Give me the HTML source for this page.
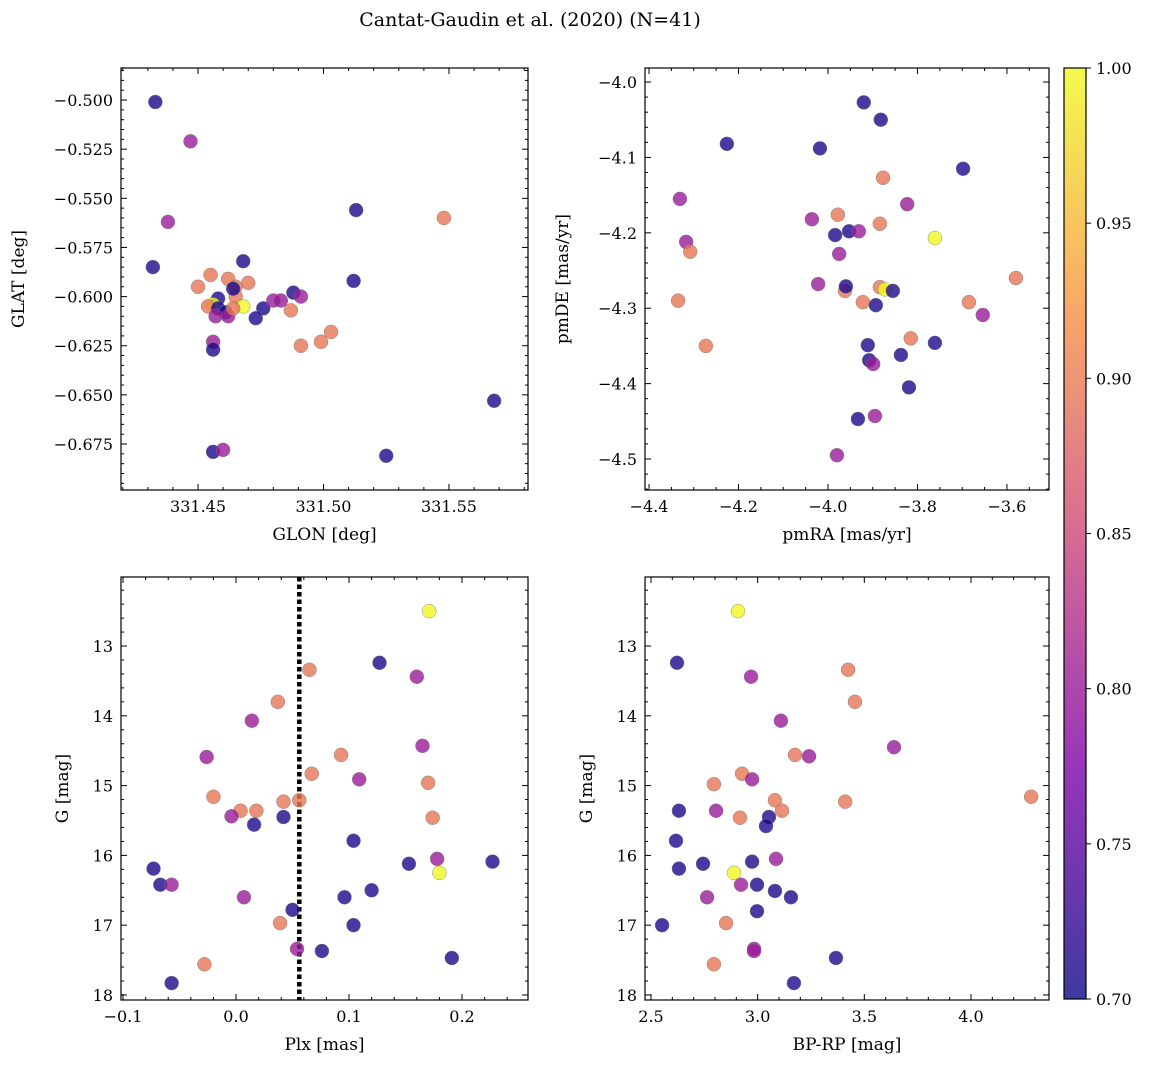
<!DOCTYPE html>
<html><head><meta charset="utf-8">
<style>
body{margin:0;background:#fff;}
svg{display:block;font-family:"DejaVu Serif","Liberation Serif",serif;}
</style></head>
<body>
<svg id="fig" width="1149" height="1067" xmlns="http://www.w3.org/2000/svg">
<text x="530" y="26" font-size="19" text-anchor="middle">Cantat-Gaudin et al. (2020) (N=41)</text>
</svg>
<script>
// ---- data ----
const p1Lon=[331.433,331.447,331.438,331.432,331.548,331.513,331.512,331.468,331.455,331.450,331.462,331.470,331.465,331.465,331.464,331.458,331.456,331.468,331.454,331.458,331.461,331.457,331.462,331.464,331.476,331.473,331.480,331.483,331.488,331.491,331.487,331.503,331.499,331.491,331.456,331.456,331.456,331.460,331.525,331.568];
const p1Lat=[-0.501,-0.521,-0.562,-0.585,-0.560,-0.556,-0.592,-0.582,-0.589,-0.595,-0.591,-0.593,-0.595,-0.600,-0.596,-0.601,-0.604,-0.605,-0.605,-0.606,-0.608,-0.610,-0.610,-0.606,-0.606,-0.611,-0.602,-0.602,-0.598,-0.600,-0.607,-0.618,-0.623,-0.625,-0.623,-0.627,-0.679,-0.678,-0.681,-0.653];
const p1Prob=[0.71,0.80,0.80,0.71,0.895,0.71,0.71,0.71,0.895,0.895,0.895,0.895,0.895,0.895,0.71,0.71,1.0,1.0,0.895,0.71,0.71,0.80,0.80,0.895,0.71,0.71,0.80,0.80,0.71,0.80,0.895,0.895,0.895,0.895,0.80,0.71,0.71,0.80,0.71,0.71];

const p2RA=[-3.920,-3.882,-4.226,-4.018,-3.698,-3.877,-4.331,-3.823,-3.978,-4.036,-3.953,-3.931,-3.984,-3.884,-3.761,-4.317,-4.308,-3.975,-3.580,-4.022,-3.962,-3.960,-3.884,-3.873,-3.855,-4.335,-3.922,-3.893,-3.685,-3.654,-3.815,-4.273,-3.911,-3.761,-3.837,-3.908,-3.899,-3.819,-3.933,-3.895,-3.980];
const p2DE=[-4.027,-4.050,-4.082,-4.088,-4.115,-4.127,-4.155,-4.162,-4.176,-4.182,-4.198,-4.198,-4.203,-4.188,-4.207,-4.212,-4.225,-4.228,-4.260,-4.268,-4.277,-4.271,-4.272,-4.275,-4.277,-4.290,-4.292,-4.296,-4.292,-4.309,-4.340,-4.350,-4.349,-4.346,-4.362,-4.369,-4.374,-4.405,-4.447,-4.443,-4.495];
const p2Prob=[0.71,0.71,0.71,0.71,0.71,0.895,0.80,0.80,0.895,0.80,0.71,0.80,0.71,0.895,1.0,0.80,0.895,0.80,0.895,0.80,0.895,0.71,0.895,1.0,0.71,0.895,0.895,0.71,0.895,0.80,0.895,0.895,0.71,0.71,0.71,0.71,0.80,0.71,0.71,0.80,0.80];

const p3Plx=[0.171,0.127,0.065,0.037,0.160,0.014,0.067,0.093,0.165,-0.026,0.109,0.170,-0.020,0.042,0.056,0.004,0.018,-0.004,0.174,0.042,0.016,0.104,-0.073,0.153,0.227,0.178,0.180,-0.067,-0.057,0.007,0.120,0.096,0.050,0.039,0.104,0.054,0.076,-0.028,0.191,-0.057];
const p3G=[12.50,13.24,13.34,13.80,13.44,14.07,14.83,14.56,14.43,14.59,14.91,14.96,15.16,15.23,15.21,15.36,15.36,15.44,15.46,15.45,15.56,15.79,16.19,16.12,16.09,16.05,16.25,16.42,16.42,16.60,16.50,16.60,16.78,16.97,17.00,17.34,17.37,17.56,17.47,17.83];
const p3Prob=[1.0,0.71,0.895,0.895,0.80,0.80,0.895,0.895,0.80,0.80,0.80,0.895,0.895,0.895,0.895,0.895,0.895,0.80,0.895,0.71,0.71,0.71,0.71,0.71,0.71,0.80,1.0,0.71,0.80,0.80,0.71,0.71,0.71,0.895,0.71,0.80,0.71,0.895,0.71,0.71];
const plxCut=0.056;

const p4BPRP=[2.908,2.622,3.424,2.969,3.456,3.109,3.639,3.175,3.241,2.795,2.927,2.974,4.282,3.081,3.410,2.805,3.114,2.917,3.053,2.631,3.039,2.617,3.086,2.744,2.974,2.889,2.631,2.922,2.997,3.081,3.156,2.763,2.997,2.852,2.552,2.983,2.983,3.367,2.795,3.170];
const p4G=[12.50,13.24,13.34,13.44,13.80,14.07,14.45,14.56,14.58,14.98,14.83,14.91,15.16,15.21,15.23,15.36,15.36,15.46,15.45,15.36,15.58,15.79,16.05,16.12,16.09,16.25,16.19,16.42,16.42,16.51,16.60,16.60,16.80,16.97,17.00,17.34,17.37,17.47,17.56,17.83];
const p4Prob=[1.0,0.71,0.895,0.80,0.895,0.80,0.80,0.895,0.80,0.895,0.895,0.80,0.895,0.895,0.895,0.80,0.895,0.895,0.71,0.71,0.71,0.71,0.80,0.71,0.71,1.0,0.71,0.80,0.71,0.71,0.71,0.80,0.71,0.895,0.71,0.80,0.80,0.71,0.895,0.71];

const cbTicks=[0.70,0.75,0.80,0.85,0.90,0.95,1.00];

// ---- helpers ----
const NS='http://www.w3.org/2000/svg';
const svg=document.getElementById('fig');
function mk(tag,attrs,parent){const e=document.createElementNS(NS,tag);for(const k in attrs)e.setAttribute(k,attrs[k]);(parent||svg).appendChild(e);return e;}
const stops=[[0,[13,8,135]],[0.25,[126,3,168]],[0.5,[204,71,120]],[0.75,[248,149,64]],[1,[240,249,33]]];
function plasma(t){t=Math.max(0,Math.min(1,t));for(let i=0;i<stops.length-1;i++){const a=stops[i],b=stops[i+1];if(t<=b[0]){const f=(t-a[0])/(b[0]-a[0]);return 'rgb('+a[1].map((v,j)=>Math.round(v+(b[1][j]-v)*f)).join(',')+')';}}return 'rgb(240,249,33)';}
const vmin=0.70,vmax=1.00;
function fmt(v,d){let s=v.toFixed(d);return s.replace('-','\u2212');}

function panel(name,box,xd,yd,xMaj,xMin,yMaj,yMin,xDec,yDec,xlab,ylab,ylabOff,xs,ys,ps,extra){
  const [L,T,R,B]=box;
  const sx=v=>L+(v-xd[0])/(xd[1]-xd[0])*(R-L);
  const sy=v=>T+(v-yd[0])/(yd[1]-yd[0])*(B-T);
  const g=mk('g',{});
  
  
  const eps=1e-9;
  const lo=Math.min(xd[0],xd[1]),hi=Math.max(xd[0],xd[1]);
  for(let v=Math.ceil(lo/xMin-eps)*xMin;v<=hi+eps;v+=xMin){
    const x=sx(v);const isMaj=Math.abs(v/xMaj-Math.round(v/xMaj))<1e-6;const len=isMaj?6:3;
    mk('line',{x1:x,x2:x,y1:B,y2:B-len,stroke:'#000','stroke-width':1},g);
    mk('line',{x1:x,x2:x,y1:T,y2:T+len,stroke:'#000','stroke-width':1},g);
    if(isMaj){const t=mk('text',{x:x,y:B+22,'font-size':16,'text-anchor':'middle'},g);t.textContent=fmt(Math.round(v/xMaj)*xMaj,xDec);
      }
  }
  const ylo=Math.min(yd[0],yd[1]),yhi=Math.max(yd[0],yd[1]);
  for(let v=Math.ceil(ylo/yMin-eps)*yMin;v<=yhi+eps;v+=yMin){
    const y=sy(v);const isMaj=Math.abs(v/yMaj-Math.round(v/yMaj))<1e-6;const len=isMaj?6:3;
    mk('line',{x1:L,x2:L+len,y1:y,y2:y,stroke:'#000','stroke-width':1},g);
    mk('line',{x1:R,x2:R-len,y1:y,y2:y,stroke:'#000','stroke-width':1},g);
    if(isMaj){const t=mk('text',{x:L-8,y:y+6,'font-size':16,'text-anchor':'end'},g);t.textContent=fmt(Math.round(v/yMaj)*yMaj,yDec);
      }
  }
  if(extra)extra(g,sx,sy);
  for(let i=0;i<xs.length;i++){
    const c=mk('circle',{cx:sx(xs[i]),cy:sy(ys[i]),r:7,fill:plasma((ps[i]-vmin)/(vmax-vmin)),'fill-opacity':0.8,stroke:'#777','stroke-width':0.5,'stroke-opacity':0.8},g);
    
    
  }
  const fr=mk('rect',{x:L,y:T,width:R-L,height:B-T,fill:'none',stroke:'#000','stroke-width':1.2},g);
  
  const xl=mk('text',{x:(L+R)/2,y:B+50,'font-size':17,'text-anchor':'middle'},g);xl.textContent=xlab;
  
  const cy=(T+B)/2, cx=L-ylabOff;
  const yl=mk('text',{x:cx,y:cy,'font-size':17,'text-anchor':'middle',transform:'rotate(-90 '+cx+' '+cy+')'},g);yl.textContent=ylab;
  
}

panel('panel-glon-glat',[121,68,528,490],[331.4193,331.5815],[-0.4837,-0.6984],0.05,0.01,0.025,0.005,2,3,'GLON [deg]','GLAT [deg]',97,p1Lon,p1Lat,p1Prob);
panel('panel-proper-motion',[645,68,1049,490],[-4.409,-3.506],[-3.9814,-4.5411],0.2,0.05,0.1,0.02,1,1,'pmRA [mas/yr]','pmDE [mas/yr]',77,p2RA,p2DE,p2Prob);
panel('panel-plx-g',[121,577,528,1000],[-0.1018,0.2584],[12.011,18.072],0.1,0.02,1,0.2,1,0,'Plx [mas]','G [mag]',53,p3Plx,p3G,p3Prob,(g,sx,sy)=>{
  const l=mk('line',{x1:sx(plxCut),x2:sx(plxCut),y1:577,y2:1000,stroke:'#000','stroke-width':4.5,'stroke-dasharray':'4.5,3'},g);
  
});
panel('panel-cmd',[645,577,1049,1000],[2.4719,4.3657],[12.011,18.072],0.5,0.1,1,0.2,1,0,'BP-RP [mag]','G [mag]',53,p4BPRP,p4G,p4Prob);

// colorbar
(function(){
  const L=1064,T=68,R=1086,B=999;
  const g=mk('g',{});
  
  
  const defs=mk('defs',{},g);
  const lg=mk('linearGradient',{id:'cbg',x1:0,y1:1,x2:0,y2:0},defs);
  for(let i=0;i<=20;i++){mk('stop',{offset:i/20,'stop-color':plasma(i/20),'stop-opacity':0.8},lg);}
  mk('rect',{x:L,y:T,width:R-L,height:B-T,fill:'url(#cbg)',stroke:'#000','stroke-width':1.2},g);
  const sy=v=>B-(v-vmin)/(vmax-vmin)*(B-T);
  for(let i=0;i<cbTicks.length;i++){
    const y=sy(cbTicks[i]);
    mk('line',{x1:R,x2:R+5,y1:y,y2:y,stroke:'#000','stroke-width':1},g);
    const t=mk('text',{x:R+10,y:y+6,'font-size':16},g);t.textContent=cbTicks[i].toFixed(2);
    
  }
})();
</script>
</body></html>
